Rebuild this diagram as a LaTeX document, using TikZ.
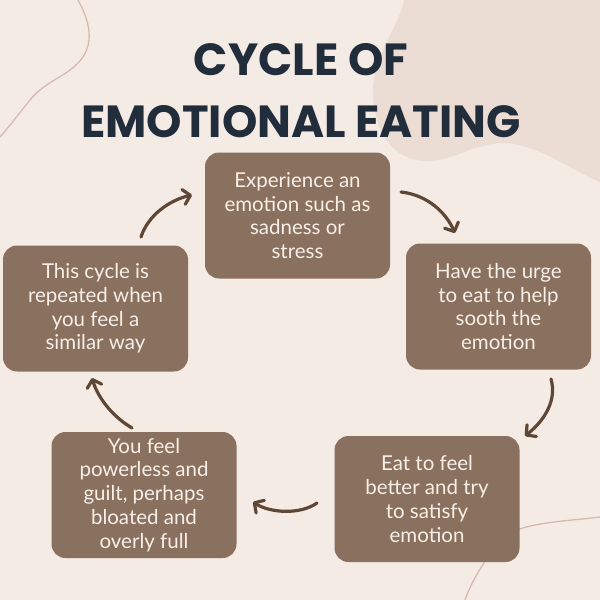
\documentclass[tikz,border=0pt]{standalone}
\usepackage{fontspec}
\setmainfont{Lato}
\newfontfamily\titlefont{Poppins}
\usetikzlibrary{arrows.meta}
\definecolor{bgc}{HTML}{F5EBE5}
\definecolor{blobc}{HTML}{EBDDD4}
\definecolor{linec}{HTML}{D5BBAD}
\definecolor{boxc}{HTML}{8A705E}
\definecolor{boxtext}{HTML}{F7EFE8}
\definecolor{arrowc}{HTML}{5E4835}
\definecolor{titlec}{HTML}{222D3C}
\tikzset{
  stepbox/.style={fill=boxc, rounded corners=14pt, minimum width=185pt, minimum height=126pt,
    text=boxtext, align=center, inner sep=0pt, font=\fontsize{20.5}{23.8}\selectfont},
  cyclearrow/.style={draw=arrowc, line width=3.2pt, line cap=round,
    -{Straight Barb[length=7pt,width=15pt,line cap=round,line join=round]}},
  deco/.style={draw=linec, line width=1.3pt},
  titletext/.style={text=titlec, font=\titlefont\bfseries\fontsize{45}{62}\selectfont, align=center}
}
\begin{document}
\begin{tikzpicture}[x=1pt,y=-1pt]
\fill[bgc] (0,0) rectangle (600,600);
\useasboundingbox (0,0) rectangle (600,600);
% background blob
\fill[blobc] (404,0) .. controls (398,30) and (372,55) .. (373,95)
  .. controls (374,130) and (392,160) .. (425,161)
  .. controls (455,162) and (480,138) .. (515,144)
  .. controls (550,152) and (575,172) .. (600,182) -- (600,0) -- cycle;
% decorative lines
\draw[deco] (78,0) .. controls (88,18) and (98,45) .. (76,65)
  .. controls (62,78) and (45,82) .. (30,100)
  .. controls (18,115) and (8,128) .. (0,137);
\draw[deco] (600,517) .. controls (560,522) and (520,522) .. (500,540)
  .. controls (485,560) and (472,580) .. (465,600);
% title
\node[titletext] (title) at (301,91) {CYCLE OF\\EMOTIONAL EATING};
% boxes
\node[stepbox] (b1) at (297.5,215.5) {Experience an\\emotion such as\\sadness or\\stress};
\node[stepbox] (b2) at (498.5,306.5) {Have the urge\\to eat to help\\sooth the\\emotion};
\node[stepbox] (b3) at (427,499) {Eat to feel\\better and try\\to satisfy\\emotion};
\node[stepbox] (b4) at (144,495) {You feel\\powerless and\\guilt, perhaps\\bloated and\\overly full};
\node[stepbox] (b5) at (95.5,308.5) {This cycle is\\repeated when\\you feel a\\similar way};
% arrow ends
\coordinate (a1s) at (401,192); \coordinate (a1e) at (455,233);
\coordinate (a2s) at (551,379); \coordinate (a2e) at (525,436);
\coordinate (a3s) at (317,503); \coordinate (a3e) at (253,502);
\coordinate (a4s) at (132,428); \coordinate (a4e) at (92,378);
\coordinate (a5s) at (141,237); \coordinate (a5e) at (192,195);
\draw[cyclearrow] (a1s) .. controls (428,195) and (446,213) .. (a1e);
\draw[cyclearrow] (a2s) .. controls (557,400) and (545,420) .. (a2e);
\draw[cyclearrow] (a3s) .. controls (300,515) and (270,513) .. (a3e);
\draw[cyclearrow] (a4s) .. controls (110,415) and (97,395) .. (a4e);
\draw[cyclearrow] (a5s) .. controls (148,215) and (170,200) .. (a5e);
\end{tikzpicture}
\end{document}
